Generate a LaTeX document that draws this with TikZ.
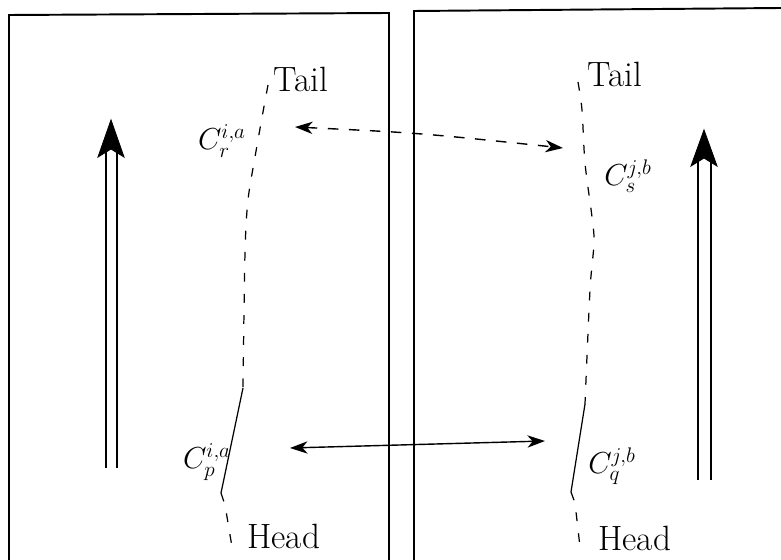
\documentclass[tikz,border=0pt]{standalone}
\usepackage{tikz}
\usetikzlibrary{arrows.meta, positioning}
\tikzstyle{frame}   = [line width=1.1pt]
\tikzstyle{chain}   = [line width=0.7pt, dash pattern=on 5pt off 7pt]
\tikzstyle{link}    = [line width=0.7pt]
\tikzstyle{lbl}     = [inner sep=0pt, font=\fontsize{20}{24}\selectfont]
\tikzstyle{mlbl}    = [inner sep=0pt, font=\LARGE]
\tikzstyle{shaft}   = [line width=0.9pt]
\tikzstyle{tip}     = [fill=black, draw=black, line width=0.5pt]
\tikzstyle{arrow}   = [line width=0.8pt, {Stealth[length=10pt,width=7pt,inset=3pt]}-{Stealth[length=10pt,width=7pt,inset=3pt]}]

\begin{document}
\begin{tikzpicture}[x=0.02cm, y=-0.02cm]
  \useasboundingbox (0,0) rectangle (781,560);
  % the two processors
  \draw [frame] (9,560) -- (9,15) -- (389,13) -- (389,560);
  \draw [frame] (414,560) -- (414,11) -- (781,8);

  % direction of the chains
  \draw [shaft] (106,468) -- (106,150) (117,468) -- (117,150);
  \fill [tip] (111,120) -- (124,157) -- (111,149) -- (98,157) -- cycle;
  \draw [shaft] (698,480) -- (698,160) (711,480) -- (711,160);
  \fill [tip] (704,130) -- (717,166) -- (704,158) -- (691,166) -- cycle;

  % chain i,a
  \coordinate (ta) at (268,85);
  \coordinate (pa1) at (243,388);
  \coordinate (pa2) at (221,493);
  \coordinate (ha) at (232,547);
  \draw [chain] plot [smooth] coordinates {(ta) (263,112) (255,157) (248,200) (245,253) (pa1)};
  \draw [link] (pa1) -- (pa2);
  \draw [chain] (pa2) -- (225,505) -- (ha);
  \node (tail1) [lbl, anchor=base west] at (273,92) {Tail};
  \node (head1) [lbl, anchor=base west] at (247,548) {Head};
  \node (cr) [mlbl] at (222,141) {$C_r^{i,a}$};
  \node (cp) [mlbl] at (207,462) {$C_p^{i,a}$};

  % chain j,b
  \coordinate (tb) at (578,82);
  \coordinate (qb1) at (585,404);
  \coordinate (qb2) at (571,492);
  \coordinate (hb) at (580,547);
  \draw [chain] plot [smooth] coordinates {(tb) (582,110) (585,163) (592,217) (594,243) (590,290) (qb1)};
  \draw [link] (qb1) -- (qb2);
  \draw [chain] (qb2) -- (575,503) -- (hb);
  \node (tail2) [lbl, anchor=base west] at (587,87) {Tail};
  \node (head2) [lbl, anchor=base west] at (598,550) {Head};
  \node (cs) [mlbl] at (628,176) {$C_s^{j,b}$};
  \node (cq) [mlbl] at (612,466) {$C_q^{j,b}$};

  % exchanged links
  \coordinate (rs1) at (295,127);
  \coordinate (rs2) at (563,148);
  \coordinate (pq1) at (290,448);
  \coordinate (pq2) at (545,441);
  \draw [arrow, dash pattern=on 6pt off 6pt] (rs1) .. controls (420,133) .. (rs2);
  \draw [arrow] (pq1) -- (pq2);
\end{tikzpicture}
\end{document}
